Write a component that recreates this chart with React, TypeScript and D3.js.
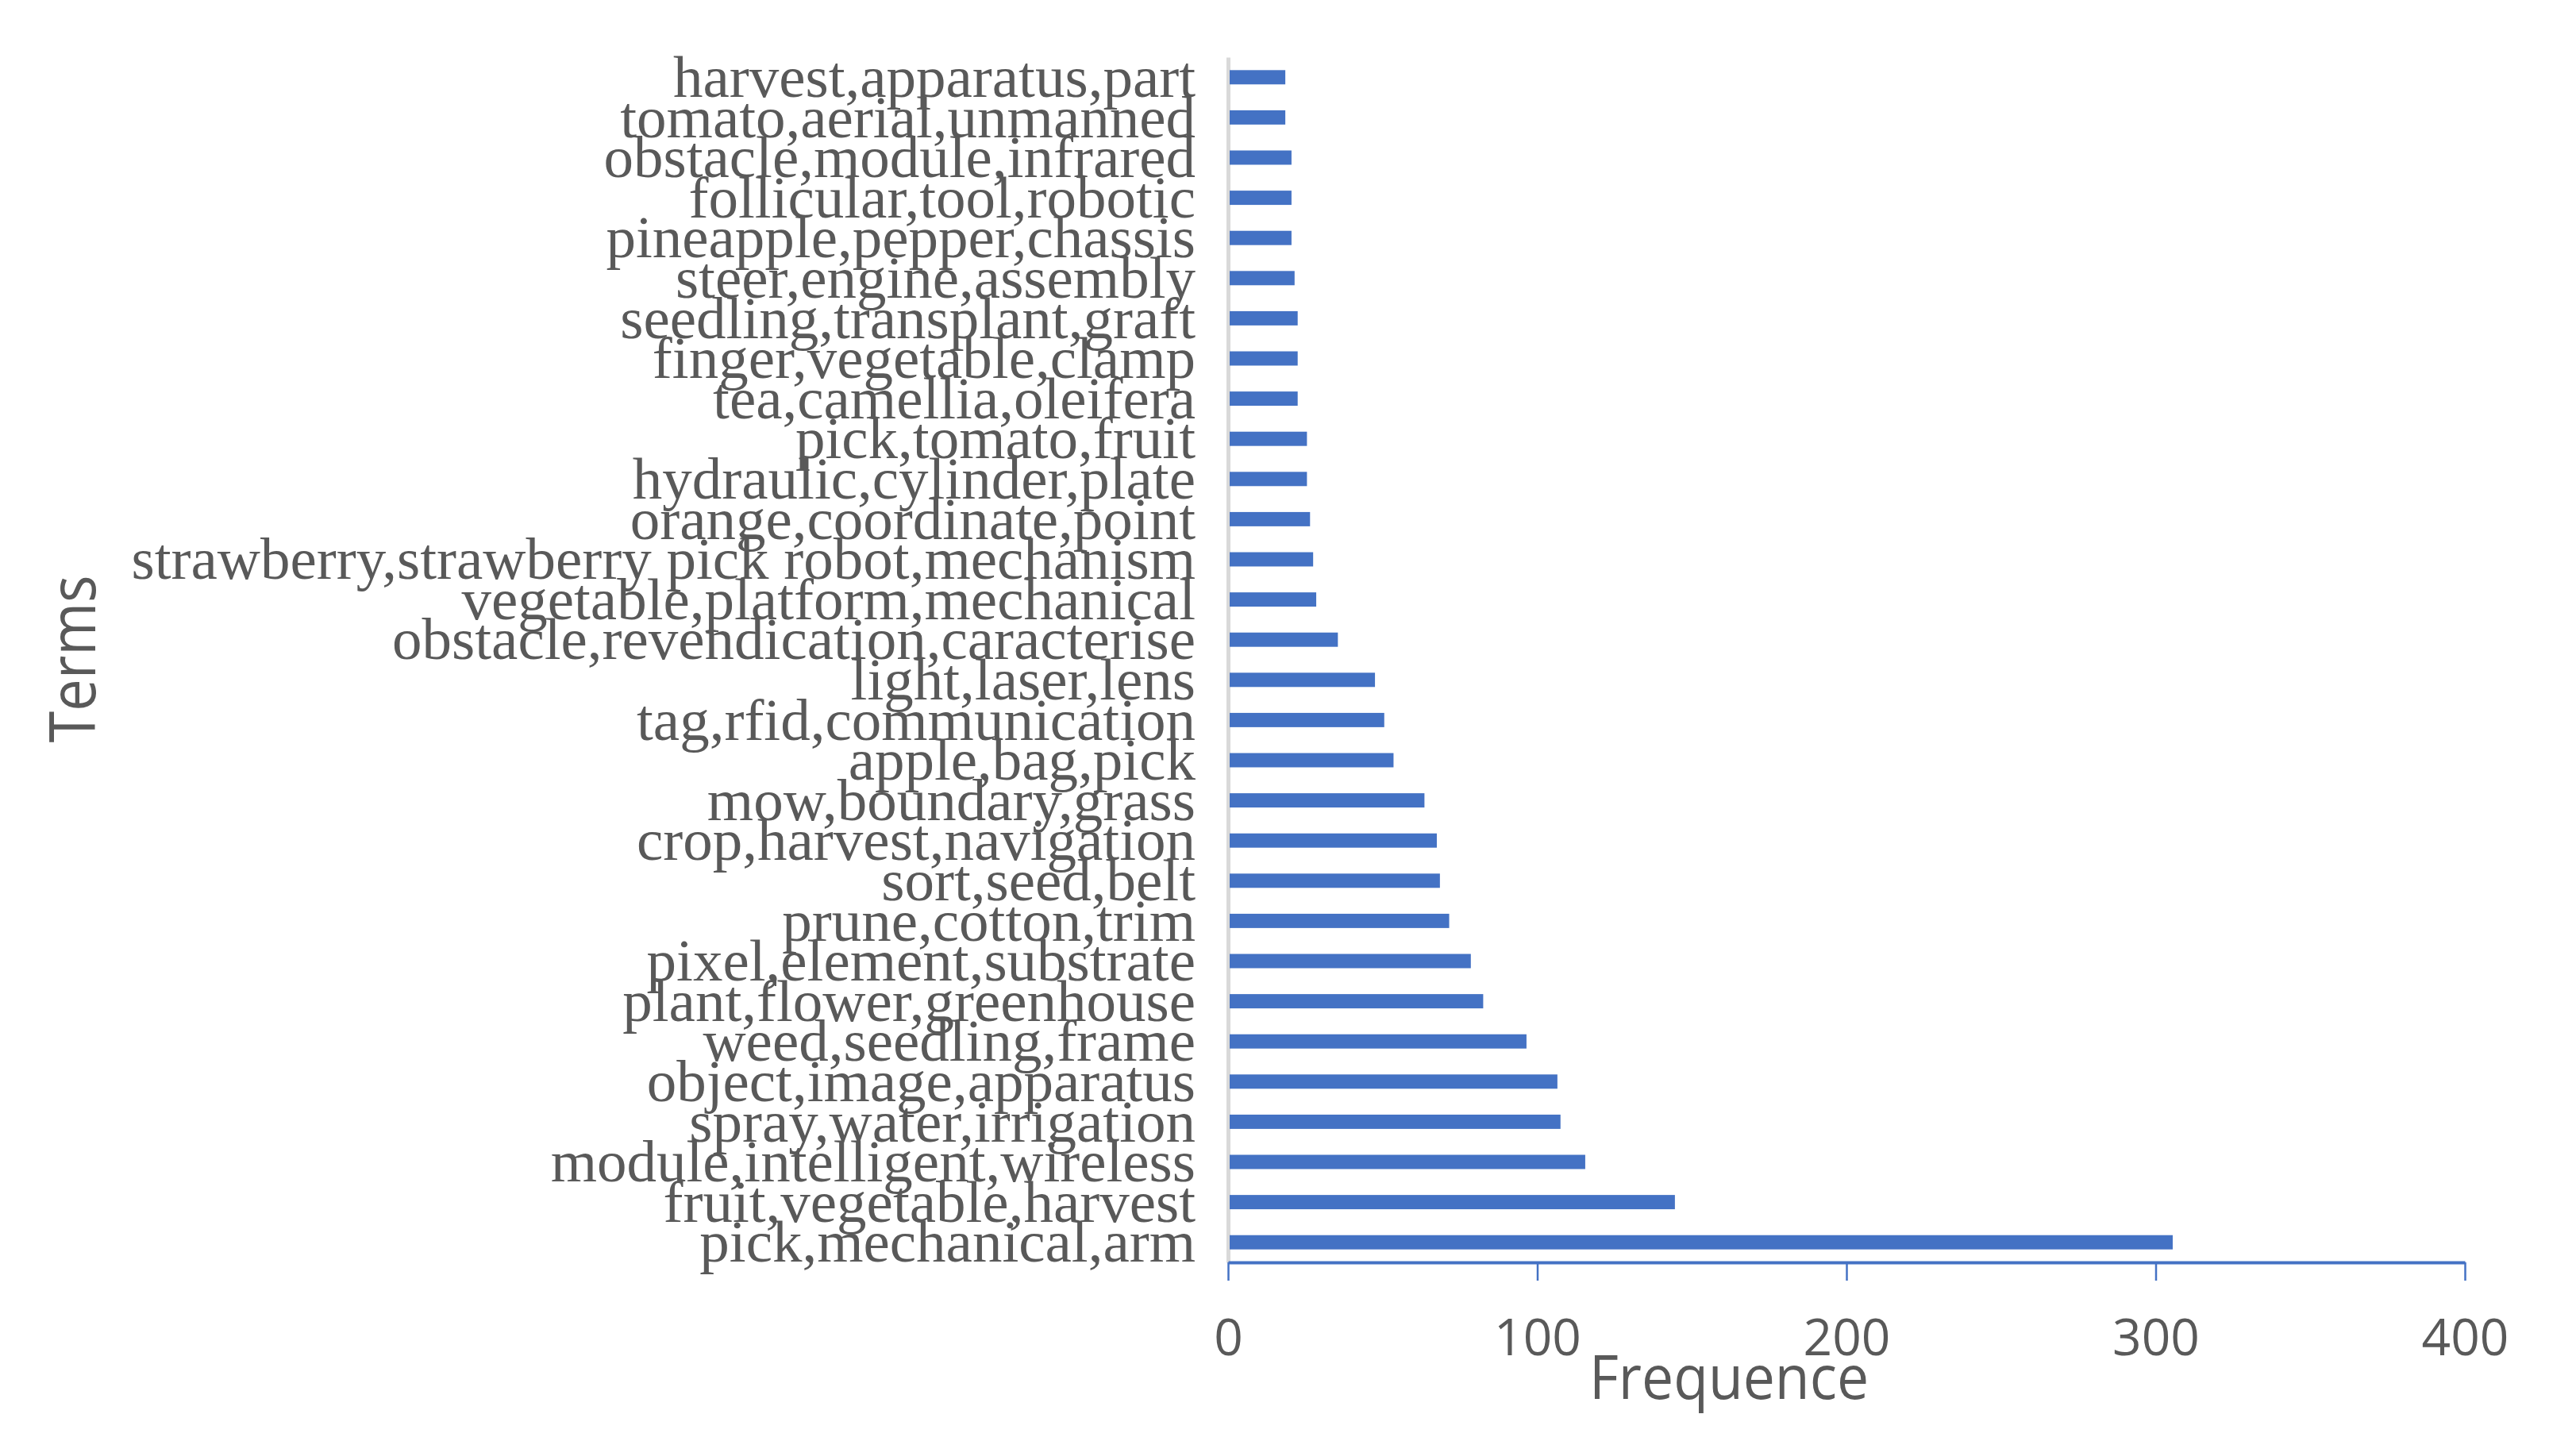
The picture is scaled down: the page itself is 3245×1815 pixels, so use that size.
import React, {useEffect, useRef} from "react";
import * as d3 from "d3";

// terms, listed top to bottom as in the chart
const terms = [
  "harvest,apparatus,part",
  "tomato,aerial,unmanned",
  "obstacle,module,infrared",
  "follicular,tool,robotic",
  "pineapple,pepper,chassis",
  "steer,engine,assembly",
  "seedling,transplant,graft",
  "finger,vegetable,clamp",
  "tea,camellia,oleifera",
  "pick,tomato,fruit",
  "hydraulic,cylinder,plate",
  "orange,coordinate,point",
  "strawberry,strawberry pick robot,mechanism",
  "vegetable,platform,mechanical",
  "obstacle,revendication,caracterise",
  "light,laser,lens",
  "tag,rfid,communication",
  "apple,bag,pick",
  "mow,boundary,grass",
  "crop,harvest,navigation",
  "sort,seed,belt",
  "prune,cotton,trim",
  "pixel,element,substrate",
  "plant,flower,greenhouse",
  "weed,seedling,frame",
  "object,image,apparatus",
  "spray,water,irrigation",
  "module,intelligent,wireless",
  "fruit,vegetable,harvest",
  "pick,mechanical,arm",
];
const frequences = [
  18, 18, 20, 20, 20, 21, 22, 22, 22, 25,
  25, 26, 27, 28, 35, 47, 50, 53, 63, 67,
  68, 71, 78, 82, 96, 106, 107, 115, 144, 305,
];
const xTicks = [0, 100, 200, 300, 400];
const xTitle = "Frequence";
const yTitle = "Terms";

function TermsChart() {
  const ref = useRef<SVGSVGElement>(null);
  const width = 3245;
  const height = 1815;
  const left = 1547;
  const right = 3105;
  const top = 72;
  const bottom = 1590;
  const blue = "#4472C4";
  const grey = "#595959";

  useEffect(() => {
    const svg = d3.select(ref.current);
    svg.selectAll("*").remove();

    const data = terms.map((t, i) => ({term: t, value: frequences[i]}));

    const x = d3.scaleLinear().domain([0, 400]).range([left, right]);
    const y = d3.scaleBand<string>()
      .domain(terms)
      .range([top, bottom])
      .paddingInner(0.645)
      .paddingOuter(0.3225);

    // category axis (grey line, serif labels)
    const yAxis = svg.append("g")
      .attr("transform", `translate(${left},0)`)
      .call(d3.axisLeft(y).tickSize(0).tickPadding(41).tickSizeOuter(0));
    yAxis.select(".domain")
      .attr("stroke", "#D9D9D9")
      .attr("stroke-width", 5);
    yAxis.selectAll("text")
      .attr("fill", grey)
      .attr("dy", "0.33em")
      .style("font-family", "'Liberation Serif', 'Times New Roman', serif")
      .style("font-size", "75px");

    // bars
    svg.append("g")
      .selectAll("rect")
      .data(data)
      .join("rect")
      .attr("x", x(0) + 2)
      .attr("y", d => y(d.term)!)
      .attr("width", d => x(d.value) - x(0))
      .attr("height", y.bandwidth())
      .attr("fill", blue);

    // value axis (blue)
    const xAxis = svg.append("g")
      .attr("transform", `translate(0,${bottom})`)
      .call(d3.axisBottom(x).tickValues(xTicks).tickSize(23).tickSizeOuter(0).tickPadding(49));
    xAxis.select(".domain")
      .attr("stroke", blue)
      .attr("stroke-width", 4);
    xAxis.selectAll(".tick line")
      .attr("stroke", blue)
      .attr("stroke-width", 2.5);
    xAxis.selectAll("text")
      .attr("fill", grey)
      .style("font-family", "'Open Sans', sans-serif")
      .style("font-size", "64px");

    // axis titles
    svg.append("text")
      .attr("x", 2178)
      .attr("y", 1762)
      .attr("text-anchor", "middle")
      .attr("fill", grey)
      .attr("textLength", 352)
      .attr("lengthAdjust", "spacingAndGlyphs")
      .style("font-family", "'Open Sans', sans-serif")
      .style("font-size", "76px")
      .text(xTitle);

    svg.append("text")
      .attr("transform", "translate(120,830) rotate(-90)")
      .attr("text-anchor", "middle")
      .attr("fill", grey)
      .attr("textLength", 211)
      .attr("lengthAdjust", "spacingAndGlyphs")
      .style("font-family", "'Open Sans', sans-serif")
      .style("font-size", "80px")
      .text(yTitle);
  }, []);

  return (
    <svg ref={ref} width={width} height={height}
      style={{position: "absolute", left: 0, top: 0, background: "#fff"}}/>
  );
}

export default function App() {
  return <TermsChart/>;
}
